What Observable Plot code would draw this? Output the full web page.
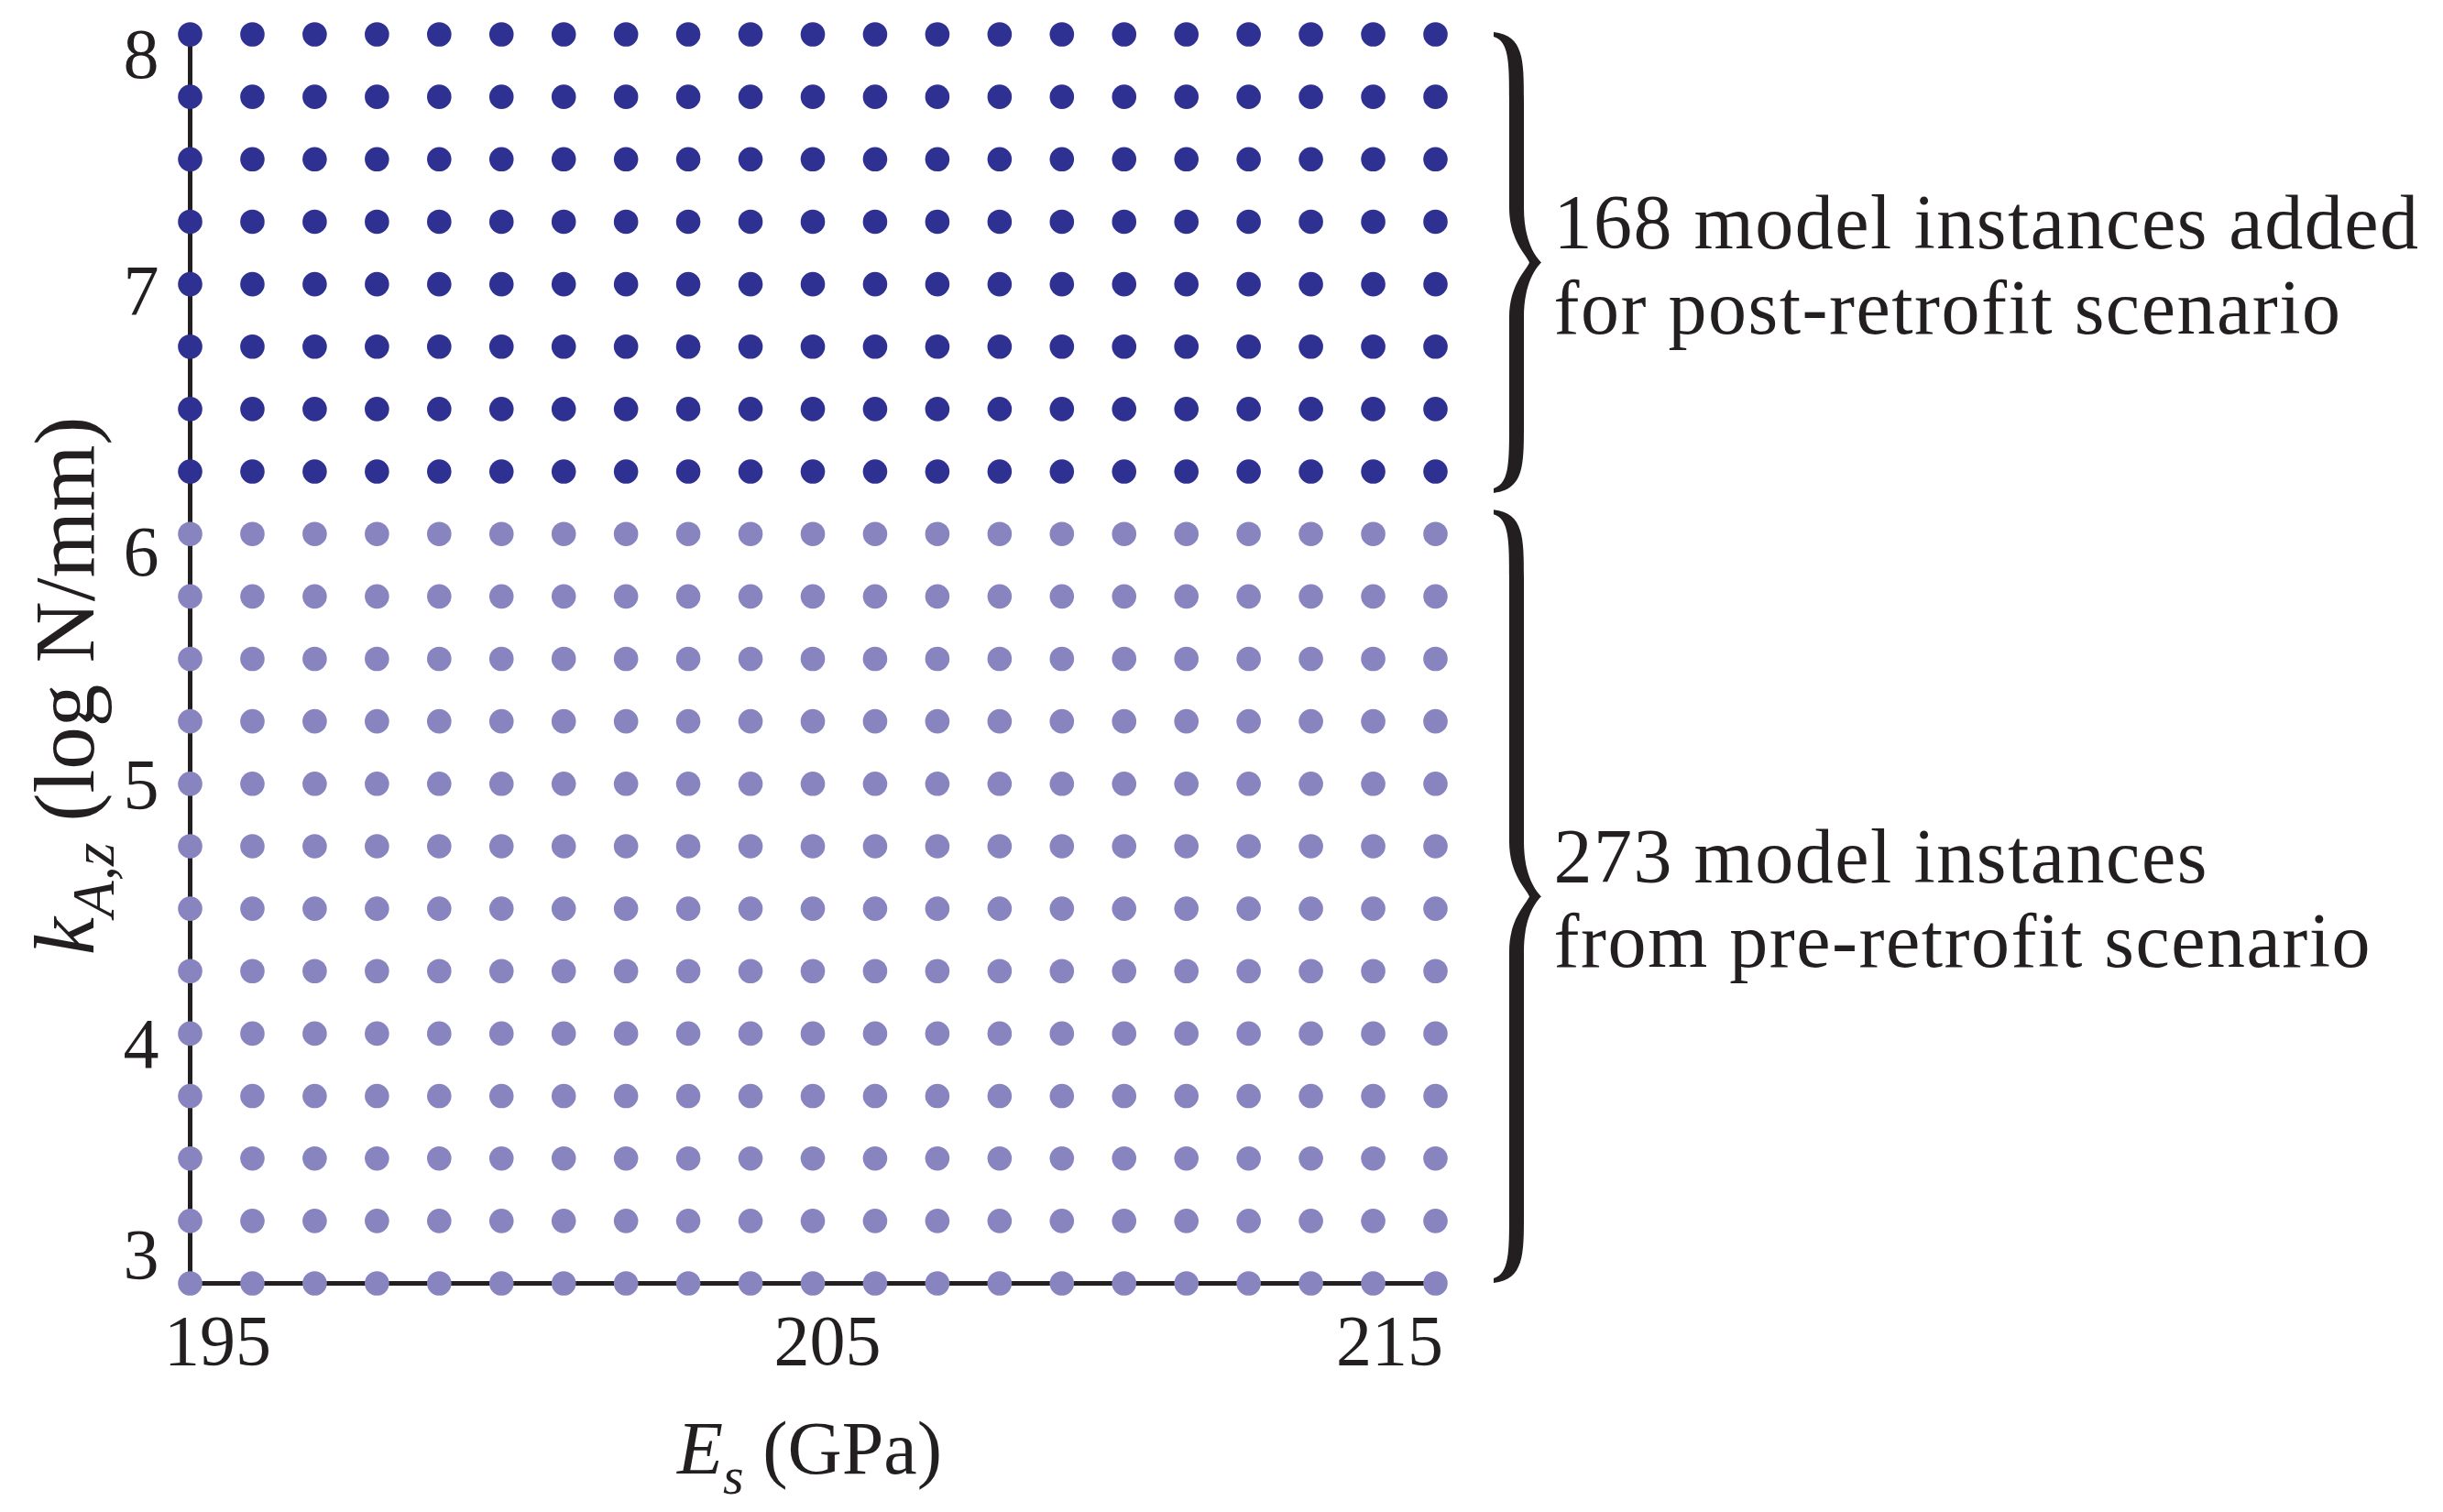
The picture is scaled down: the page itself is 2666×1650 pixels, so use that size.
<!DOCTYPE html>
<html>
<head>
<meta charset="utf-8">
<script src="https://cdn.jsdelivr.net/npm/d3@7"></script>
<script src="https://cdn.jsdelivr.net/npm/@observablehq/plot@0.6"></script>
<style>
  html, body { margin: 0; padding: 0; background: #ffffff; }
  #chart svg { display: block; }
</style>
</head>
<body>
<div id="chart"></div>
<script>
// ---- data ----
const esValues = [195, 196, 197, 198, 199, 200, 201, 202, 203, 204, 205,
                  206, 207, 208, 209, 210, 211, 212, 213, 214, 215];
const kPre  = [3, 3.25, 3.5, 3.75, 4, 4.25, 4.5, 4.75, 5, 5.25, 5.5, 5.75, 6];
const kPost = [6.25, 6.5, 6.75, 7, 7.25, 7.5, 7.75, 8];
const xTicks = [195, 205, 215];
const yTicks = [3, 4, 5, 6, 7, 8];
const groupNames  = ["pre-retrofit", "post-retrofit"];
const groupLabels = ["273 model instances\nfrom pre-retrofit scenario",
                     "168 model instances added\nfor post-retrofit scenario"];

// ---- styles ----
const colorPre = "#8884bf";
const colorPost = "#2e3192";
const ink = "#231f20";
const FONT = "'Liberation Serif', 'Times New Roman', serif";

// ---- tables built from the arrays ----
const points = [];
for (const k of kPre) for (const e of esValues) points.push({E: e, k, g: groupNames[0]});
for (const k of kPost) for (const e of esValues) points.push({E: e, k, g: groupNames[1]});

const halfGap = (d3.min(kPost) - d3.max(kPre)) / 2;
const groups = [
  {name: groupNames[0], label: groupLabels[0], lo: d3.min(kPre),  hi: d3.max(kPre) + 0.7 * halfGap},
  {name: groupNames[1], label: groupLabels[1], lo: d3.min(kPost) - 0.7 * halfGap, hi: d3.max(kPost)}
];
const eMin = d3.min(esValues), eMax = d3.max(esValues);
const kMin = d3.min(kPre), kMax = d3.max(kPost);

const plot = Plot.plot({
  width: 2666,
  height: 1650,
  marginLeft: 207,
  marginRight: 1100,
  marginTop: 37,
  marginBottom: 250,
  x: {domain: [eMin, eMax]},
  y: {domain: [kMin, kMax]},
  color: {domain: groupNames, range: [colorPre, colorPost]},
  style: {fontFamily: FONT, fontSize: "84px", color: ink, background: "#ffffff", overflow: "visible"},
  marks: [
    Plot.ruleX([eMin], {y1: kMin, y2: kMax, stroke: ink, strokeWidth: 5}),
    Plot.ruleY([kMin], {x1: eMin, x2: eMax, stroke: ink, strokeWidth: 5}),
    Plot.dot(points, {x: "E", y: "k", fill: "g", r: 13.3, stroke: "none"}),
    Plot.axisX({ticks: xTicks, tickSize: 0, tickPadding: 33, fontSize: 78, label: null, tickFormat: d => String(d)}),
    Plot.axisY({ticks: yTicks, tickSize: 0, tickPadding: 34, fontSize: 78, label: null, tickFormat: d => String(d)}),
    Plot.text(groups, {
      x: () => eMax, y: d => (d.lo + d.hi) / 2, text: "label",
      dx: 129, textAnchor: "start", lineAnchor: "middle", lineHeight: 1.1,
      fontSize: 84, fill: ink
    })
  ]
});

document.getElementById("chart").appendChild(plot);

// ---- post-render: label nudges, braces and rich-text axis labels ----
const svg = d3.select(plot);
const xs = plot.scale("x"), ys = plot.scale("y");
const xLeft = xs.apply(eMin), xRight = xs.apply(eMax);
const yTop = ys.apply(kMax), yBottom = ys.apply(kMin);

svg.selectAll("g[aria-label='text'] text").style("letter-spacing", "1.5px");

function nudge(el, dx, dy) {
  const t = el.getAttribute("transform");
  el.setAttribute("transform", (t ? t + " " : "") + `translate(${dx},${dy})`);
}
// tick-label placement as typeset in the reference (pixels)
const yLabelShift = [-30, 12, 2, 20, 8, 23];
const xLabelShift = [30, 16, -50];
svg.selectAll("g[aria-label='y-axis tick label'] text").each(function(_, i) { nudge(this, 0, yLabelShift[i] || 0); });
svg.selectAll("g[aria-label='x-axis tick label'] text").each(function(_, i) { nudge(this, xLabelShift[i] || 0, 0); });

function bracePath(x0, y0, y1) {
  const b = 25, w = 52, h = 8, r = 75, r2 = 60;
  const tipX = x0 + w, inX = tipX - 13, c = x0 + b, ym = (y0 + y1) / 2;
  return `M${x0},${y0}
    C${c + h},${y0 + 4} ${c + h},${y0 + r * 0.4} ${c + h},${y0 + r}
    L${c + h},${ym - r2}
    C${c + h},${ym - r2 * 0.35} ${tipX - 5},${ym - 5} ${tipX},${ym}
    C${tipX - 5},${ym + 5} ${c + h},${ym + r2 * 0.35} ${c + h},${ym + r2}
    L${c + h},${y1 - r}
    C${c + h},${y1 - r * 0.4} ${c + h},${y1 - 4} ${x0},${y1}
    L${x0},${y1 - 5}
    C${c - h},${y1 - 10} ${c - h},${y1 - r * 0.45} ${c - h},${y1 - r}
    L${c - h},${ym + r2}
    C${c - h},${ym + r2 * 0.4} ${inX - 3},${ym + 8} ${inX},${ym}
    C${inX - 3},${ym - 8} ${c - h},${ym - r2 * 0.4} ${c - h},${ym - r2}
    L${c - h},${y0 + r}
    C${c - h},${y0 + r * 0.45} ${c - h},${y0 + 10} ${x0},${y0 + 5} Z`;
}

const braceG = svg.append("g").attr("aria-label", "braces");
for (const g of groups) {
  const y0 = ys.apply(g.hi) - 2, y1 = ys.apply(g.lo);
  braceG.append("path")
    .attr("d", bracePath(xRight + 64, y0, y1))
    .attr("fill", ink);
}

// x label: E_s (GPa)
const xl = svg.append("text")
  .attr("x", (xLeft + xRight) / 2 - 3)
  .attr("y", yBottom + 208)
  .attr("text-anchor", "middle")
  .attr("font-family", FONT)
  .attr("font-size", 82)
  .attr("fill", ink);
xl.append("tspan").attr("font-style", "italic").text("E");
xl.append("tspan").attr("font-style", "italic").attr("font-size", 58).attr("dy", 22).text("s");
xl.append("tspan").attr("dy", -22).text(" (GPa)");

// y label: k_{A,z} (log N/mm)
const yl = svg.append("text")
  .attr("transform", `translate(${xLeft - 105},${(yTop + yBottom) / 2 + 30}) rotate(-90)`)
  .attr("text-anchor", "middle")
  .attr("font-family", FONT)
  .attr("font-size", 93)
  .attr("fill", ink);
yl.append("tspan").attr("font-style", "italic").text("k");
yl.append("tspan").attr("font-style", "italic").attr("font-size", 65).attr("dy", 22).text("A,z");
yl.append("tspan").attr("dy", -22).text(" (log N/mm)");
</script>
</body>
</html>
